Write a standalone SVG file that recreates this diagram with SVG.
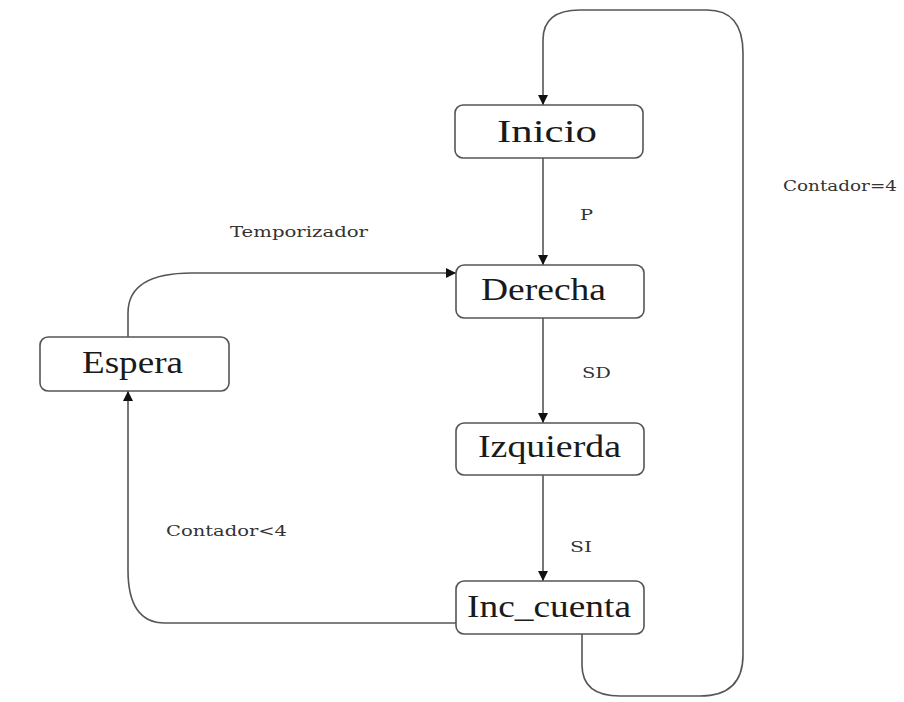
<svg xmlns="http://www.w3.org/2000/svg" width="904" height="702" viewBox="0 0 904 702">
  <style>
    .box { fill: #ffffff; stroke: #555555; stroke-width: 1.6; }
    .name { font-family: "Liberation Serif", "Times New Roman", serif; font-size: 32px; fill: #1a1a1a; text-anchor: start; }
    .edge { fill: none; stroke: #555555; stroke-width: 1.6; }
    .lbl { font-family: "DejaVu Serif", "Liberation Serif", serif; font-size: 15px; fill: #333333; }
  </style>
  <defs>
    <marker id="arrow" viewBox="0 0 10 10" refX="10" refY="5" markerWidth="10" markerHeight="10" markerUnits="userSpaceOnUse" orient="auto">
      <path d="M0,0 L10,5 L0,10 z" fill="#111111"/>
    </marker>
  </defs>
  <rect width="904" height="702" fill="#ffffff"/>

  <g id="connectors">
    <!-- Inicio -> Derecha -->
    <path class="edge" d="M543,158 L543,265" marker-end="url(#arrow)"/>
    <!-- Derecha -> Izquierda -->
    <path class="edge" d="M543,318 L543,423" marker-end="url(#arrow)"/>
    <!-- Izquierda -> Inc_cuenta -->
    <path class="edge" d="M543,475 L543,581" marker-end="url(#arrow)"/>
    <!-- Espera -> Derecha -->
    <path class="edge" d="M128,337 L128,313 Q128,273 192,273 L456,273" marker-end="url(#arrow)"/>
    <!-- Inc_cuenta -> Espera -->
    <path class="edge" d="M456,623 L165,623 Q128,623 128,570 L128,391" marker-end="url(#arrow)"/>
    <!-- Inc_cuenta -> Inicio -->
    <path class="edge" d="M582,634 L582,665 Q582,696 620,696 L700,696 Q743,696 743,655 L743,53 Q743,10 707,10 L580,10 Q543,10 543,40 L543,105" marker-end="url(#arrow)"/>
  </g>

  <g id="inicio">
    <rect class="box" x="455" y="105" width="188" height="53" rx="8"/>
    <text class="name" x="497" y="142" textLength="100" lengthAdjust="spacingAndGlyphs">Inicio</text>
  </g>
  <g id="derecha">
    <rect class="box" x="456" y="265" width="188" height="53" rx="8"/>
    <text class="name" x="481" y="300" textLength="125" lengthAdjust="spacingAndGlyphs">Derecha</text>
  </g>
  <g id="izquierda">
    <rect class="box" x="456" y="423" width="188" height="52" rx="8"/>
    <text class="name" x="478" y="457" textLength="143" lengthAdjust="spacingAndGlyphs">Izquierda</text>
  </g>
  <g id="inc_cuenta">
    <rect class="box" x="456" y="581" width="188" height="53" rx="8"/>
    <text class="name" x="467" y="617" textLength="164" lengthAdjust="spacingAndGlyphs">Inc_cuenta</text>
  </g>
  <g id="espera">
    <rect class="box" x="40" y="337" width="189" height="54" rx="8"/>
    <text class="name" x="82" y="373" textLength="101" lengthAdjust="spacingAndGlyphs">Espera</text>
  </g>

  <g id="labels">
    <text class="lbl" x="580" y="220" textLength="13" lengthAdjust="spacingAndGlyphs">P</text>
    <text class="lbl" x="582" y="378" textLength="29" lengthAdjust="spacingAndGlyphs">SD</text>
    <text class="lbl" x="570" y="552" textLength="22" lengthAdjust="spacingAndGlyphs">SI</text>
    <text class="lbl" x="230" y="237" textLength="138" lengthAdjust="spacingAndGlyphs">Temporizador</text>
    <text class="lbl" x="166" y="536" textLength="121" lengthAdjust="spacingAndGlyphs">Contador&lt;4</text>
    <text class="lbl" x="783" y="191" textLength="114" lengthAdjust="spacingAndGlyphs">Contador=4</text>
  </g>
</svg>
